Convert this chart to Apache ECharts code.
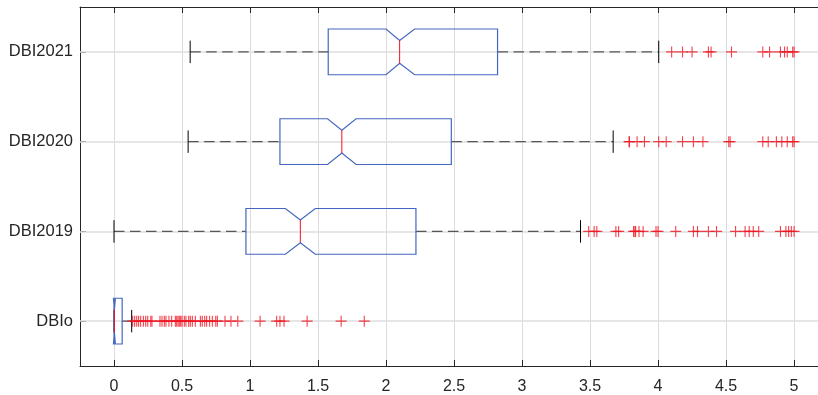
<!DOCTYPE html>
<html>
<head>
<meta charset="utf-8">
<script src="https://cdn.jsdelivr.net/npm/echarts@6/dist/echarts.min.js"></script>
<style>
  html, body { margin: 0; padding: 0; background: #fff; }
  #box { width: 818px; height: 395px; }
</style>
</head>
<body>
<div id="box"></div>
<script>
// categories bottom -> top
var categories = ['DBIo', 'DBI2019', 'DBI2020', 'DBI2021'];

// box statistics, same order as categories
var whiskerLow  = [0,      0.0,  0.545, 0.56];
var q1          = [0,      0.97, 1.22,  1.575];
var median      = [0.003,  1.37, 1.675, 2.10];
var q3          = [0.06,   2.22, 2.48,  2.82];
var whiskerHigh = [0.13,   3.43, 3.67,  4.005];
var notchLow    = [-0.004, 1.26, 1.57,  2.00];
var notchHigh   = [0.01,   1.48, 1.78,  2.21];

// outliers per category
var outDBIo = [0.137, 0.152, 0.167, 0.181, 0.196, 0.216, 0.233, 0.248, 0.270, 0.279,
  0.338, 0.353, 0.370, 0.382, 0.404, 0.424, 0.451, 0.461, 0.471, 0.480, 0.490, 0.500,
  0.517, 0.529, 0.549, 0.561, 0.576, 0.598, 0.635, 0.649, 0.667, 0.681, 0.703, 0.723,
  0.748, 0.760, 0.816, 0.860, 0.910, 1.074, 1.196, 1.220, 1.250, 1.420, 1.670, 1.840];
var out2019 = [3.49, 3.53, 3.55, 3.69, 3.71, 3.82, 3.83, 3.835, 3.86, 3.89, 3.985, 4.00,
  4.13, 4.26, 4.29, 4.37, 4.43, 4.57, 4.64, 4.67, 4.70, 4.74, 4.90, 4.94, 4.96, 4.98, 5.00];
var out2020 = [3.787, 3.79, 3.846, 3.90, 4.005, 4.06, 4.18, 4.26, 4.33, 4.52, 4.53,
  4.77, 4.81, 4.87, 4.91, 4.95, 4.99, 5.00];
var out2021 = [4.10, 4.18, 4.25, 4.37, 4.39, 4.54, 4.77, 4.82, 4.90, 4.93, 4.95, 4.99, 5.00];

var outliers = [outDBIo, out2019, out2020, out2021];

var boxData = [];
for (var i = 0; i < categories.length; i++) {
  boxData.push([i, whiskerLow[i], q1[i], median[i], q3[i], whiskerHigh[i], notchLow[i], notchHigh[i]]);
}
var outData = [];
for (var c = 0; c < outliers.length; c++) {
  for (var k = 0; k < outliers[c].length; k++) outData.push([outliers[c][k], categories[c]]);
}

var TXT = '#262626';
var BLUE = '#4466c0';
var RED = '#f01420';
var XMIN = -0.25, XMAX = 5.176;

function xLabel(v) {
  var r = Math.round(v * 2);
  if (Math.abs(v * 2 - r) > 1e-6) return '';
  if (r === 0) return '0';
  return String(r / 2);
}

function renderBox(params, api) {
  var ci = api.value(0);
  var lo = api.value(1), a = api.value(2), m = api.value(3), b = api.value(4),
      hi = api.value(5), nl = api.value(6), nh = api.value(7);
  var band = api.size([0, 1])[1];
  var h = band * 0.255, nhh = h * 0.5, cap = band * 0.125;
  var y = api.coord([m, ci])[1];
  function X(v) { return api.coord([v, ci])[0]; }
  var pts = [
    [X(a), y - h], [X(nl), y - h], [X(m), y - nhh], [X(nh), y - h], [X(b), y - h],
    [X(b), y + h], [X(nh), y + h], [X(m), y + nhh], [X(nl), y + h], [X(a), y + h]
  ];
  var dash = { stroke: '#555', lineWidth: 1.3, lineDash: [10.5, 5.5] };
  return {
    type: 'group',
    children: [
      { type: 'line', shape: { x1: X(lo), y1: y, x2: X(a), y2: y }, style: dash },
      { type: 'line', shape: { x1: X(b), y1: y, x2: X(hi), y2: y }, style: dash },
      { type: 'line', shape: { x1: X(lo), y1: y - cap, x2: X(lo), y2: y + cap }, style: { stroke: '#000', lineWidth: 1 } },
      { type: 'line', shape: { x1: X(hi), y1: y - cap, x2: X(hi), y2: y + cap }, style: { stroke: '#000', lineWidth: 1 } },
      { type: 'polygon', shape: { points: pts }, style: { fill: 'none', stroke: BLUE, lineWidth: 1.2 } },
      { type: 'line', shape: { x1: X(m), y1: y - nhh, x2: X(m), y2: y + nhh }, style: { stroke: RED, lineWidth: 1 } }
    ]
  };
}

var chart = echarts.init(document.getElementById('box'));
chart.setOption({
  animation: false,
  backgroundColor: '#fff',
  textStyle: { fontFamily: 'Liberation Sans, Arial, sans-serif' },
  grid: { left: 80, right: 0, top: 7, bottom: 29 },
  xAxis: [{
    type: 'value', min: XMIN, max: XMAX, splitNumber: 10,
    axisLine: { show: true, onZero: false, lineStyle: { color: TXT, width: 1 } },
    axisTick: { show: true, inside: true, length: 6, lineStyle: { color: TXT } },
    axisLabel: { formatter: xLabel, color: TXT, fontSize: 16, margin: 13, showMinLabel: false, showMaxLabel: false },
    splitLine: { show: true, lineStyle: { color: '#dcdcdc', width: 1 } }
  }, {
    type: 'value', position: 'top', min: XMIN, max: XMAX, splitNumber: 10,
    axisLine: { show: true, onZero: false, lineStyle: { color: TXT, width: 1 } },
    axisTick: { show: true, inside: true, length: 6, lineStyle: { color: TXT } },
    axisLabel: { show: false },
    splitLine: { show: false }
  }],
  yAxis: {
    type: 'category', data: categories,
    axisLine: { show: true, onZero: false, lineStyle: { color: TXT, width: 1 } },
    axisTick: { show: true, inside: true, alignWithLabel: true, length: 6, lineStyle: { color: TXT } },
    axisLabel: { color: TXT, fontSize: 16.5, margin: 7 },
    splitLine: { show: false }
  },
  series: [{
    type: 'custom',
    renderItem: renderBox,
    encode: { x: [1, 2, 3, 4, 5], y: 0 },
    data: boxData,
    z: 3,
    markLine: {
      silent: true, symbol: 'none', label: { show: false },
      lineStyle: { color: '#dedede', width: 1.5, type: 'solid' },
      data: categories.map(function (n) { return { yAxis: n }; }),
      z: 1
    }
  }, {
    type: 'scatter',
    data: outData,
    symbol: 'path://M0,5L10,5M5,0L5,10',
    symbolSize: 11,
    itemStyle: { color: 'rgba(0,0,0,0)', borderColor: RED, borderWidth: 1.1 },
    z: 4
  }]
});
</script>
</body>
</html>
